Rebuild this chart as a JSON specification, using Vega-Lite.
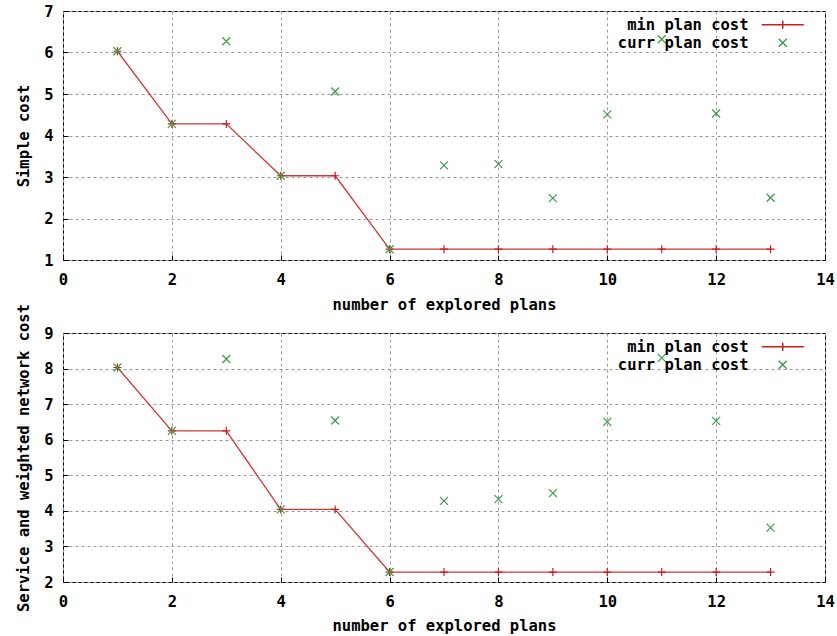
{
  "$schema": "https://vega.github.io/schema/vega-lite/v6.json",
  "background": "white",
  "padding": {"left": 16, "top": 3, "right": 8, "bottom": 3},
  "datasets": {
    "simple": [
      {"n": 1, "cost": 6.03, "series": "min plan cost"},
      {"n": 2, "cost": 4.28, "series": "min plan cost"},
      {"n": 3, "cost": 4.28, "series": "min plan cost"},
      {"n": 4, "cost": 3.03, "series": "min plan cost"},
      {"n": 5, "cost": 3.03, "series": "min plan cost"},
      {"n": 6, "cost": 1.26, "series": "min plan cost"},
      {"n": 7, "cost": 1.26, "series": "min plan cost"},
      {"n": 8, "cost": 1.26, "series": "min plan cost"},
      {"n": 9, "cost": 1.26, "series": "min plan cost"},
      {"n": 10, "cost": 1.26, "series": "min plan cost"},
      {"n": 11, "cost": 1.26, "series": "min plan cost"},
      {"n": 12, "cost": 1.26, "series": "min plan cost"},
      {"n": 13, "cost": 1.26, "series": "min plan cost"},
      {"n": 1, "cost": 6.03, "series": "curr plan cost"},
      {"n": 2, "cost": 4.28, "series": "curr plan cost"},
      {"n": 3, "cost": 6.27, "series": "curr plan cost"},
      {"n": 4, "cost": 3.03, "series": "curr plan cost"},
      {"n": 5, "cost": 5.06, "series": "curr plan cost"},
      {"n": 6, "cost": 1.26, "series": "curr plan cost"},
      {"n": 7, "cost": 3.28, "series": "curr plan cost"},
      {"n": 8, "cost": 3.31, "series": "curr plan cost"},
      {"n": 9, "cost": 2.49, "series": "curr plan cost"},
      {"n": 10, "cost": 4.51, "series": "curr plan cost"},
      {"n": 11, "cost": 6.32, "series": "curr plan cost"},
      {"n": 12, "cost": 4.53, "series": "curr plan cost"},
      {"n": 13, "cost": 2.5, "series": "curr plan cost"}
    ],
    "service": [
      {"n": 1, "cost": 8.03, "series": "min plan cost"},
      {"n": 2, "cost": 6.25, "series": "min plan cost"},
      {"n": 3, "cost": 6.25, "series": "min plan cost"},
      {"n": 4, "cost": 4.04, "series": "min plan cost"},
      {"n": 5, "cost": 4.04, "series": "min plan cost"},
      {"n": 6, "cost": 2.28, "series": "min plan cost"},
      {"n": 7, "cost": 2.28, "series": "min plan cost"},
      {"n": 8, "cost": 2.28, "series": "min plan cost"},
      {"n": 9, "cost": 2.28, "series": "min plan cost"},
      {"n": 10, "cost": 2.28, "series": "min plan cost"},
      {"n": 11, "cost": 2.28, "series": "min plan cost"},
      {"n": 12, "cost": 2.28, "series": "min plan cost"},
      {"n": 13, "cost": 2.28, "series": "min plan cost"},
      {"n": 1, "cost": 8.03, "series": "curr plan cost"},
      {"n": 2, "cost": 6.25, "series": "curr plan cost"},
      {"n": 3, "cost": 8.27, "series": "curr plan cost"},
      {"n": 4, "cost": 4.04, "series": "curr plan cost"},
      {"n": 5, "cost": 6.54, "series": "curr plan cost"},
      {"n": 6, "cost": 2.28, "series": "curr plan cost"},
      {"n": 7, "cost": 4.28, "series": "curr plan cost"},
      {"n": 8, "cost": 4.33, "series": "curr plan cost"},
      {"n": 9, "cost": 4.5, "series": "curr plan cost"},
      {"n": 10, "cost": 6.5, "series": "curr plan cost"},
      {"n": 11, "cost": 8.3, "series": "curr plan cost"},
      {"n": 12, "cost": 6.53, "series": "curr plan cost"},
      {"n": 13, "cost": 3.53, "series": "curr plan cost"}
    ]
  },
  "bounds": "flush",
  "spacing": 73,
  "resolve": {
    "scale": {"y": "independent", "color": "independent", "shape": "independent"},
    "legend": {"color": "independent", "shape": "independent"}
  },
  "vconcat": [
    {
      "width": 762,
      "height": 249,
      "data": {"name": "simple"},
      "encoding": {
        "x": {"field": "n", "type": "quantitative", "scale": {"domain": [0, 14]}, "axis": {"title": "number of explored plans", "values": [0, 2, 4, 6, 8, 10, 12, 14], "format": "d", "labelPadding": 17, "titlePadding": 10}},
        "y": {"field": "cost", "type": "quantitative", "scale": {"domain": [1, 7], "zero": false}, "axis": {"title": "Simple cost", "values": [1, 2, 3, 4, 5, 6, 7], "format": "d"}}
      },
      "layer": [
        {
          "mark": {"type": "line", "color": "#d03838", "strokeWidth": 1.3},
          "transform": [{"filter": "datum.series === 'min plan cost'"}]
        },
        {
          "mark": {"type": "point", "filled": false, "strokeWidth": 1.2, "size": 64, "opacity": 1, "color": "#c81e1e", "shape": "M-1,0L1,0M0,-1L0,1"},
          "transform": [{"filter": "datum.series === 'min plan cost'"}]
        },
        {
          "mark": {"type": "point", "filled": false, "strokeWidth": 1.2, "size": 64, "opacity": 1, "color": "#3c9c46", "shape": "M-1,-1L1,1M-1,1L1,-1"},
          "transform": [{"filter": "datum.series === 'curr plan cost'"}]
        },
        {
          "mark": {"type": "point", "filled": false, "strokeWidth": 1.2, "opacity": 1},
          "transform": [{"filter": "false"}],
          "encoding": {
            "color": {
              "field": "series", "type": "nominal",
              "scale": {"domain": ["min plan cost", "curr plan cost"], "range": ["#c81e1e", "#3c9c46"]},
              "legend": {
                "orient": "none", "legendX": 712, "legendY": 6, "title": null,
                "labelAlign": "right", "labelOffset": -42, "symbolSize": 100, "rowPadding": 1
              }
            },
            "shape": {
              "field": "series", "type": "nominal",
              "scale": {"domain": ["min plan cost", "curr plan cost"], "range": ["M-4.2,0L4.2,0M0,-0.8L0,0.8", "M-0.8,-0.8L0.8,0.8M-0.8,0.8L0.8,-0.8"]},
              "legend": {
                "orient": "none", "legendX": 712, "legendY": 6, "title": null,
                "labelAlign": "right", "labelOffset": -42, "symbolSize": 100, "rowPadding": 1
              }
            }
          }
        }
      ]
    },
    {
      "width": 762,
      "height": 249,
      "data": {"name": "service"},
      "encoding": {
        "x": {"field": "n", "type": "quantitative", "scale": {"domain": [0, 14]}, "axis": {"title": "number of explored plans", "values": [0, 2, 4, 6, 8, 10, 12, 14], "format": "d", "labelPadding": 17, "titlePadding": 9}},
        "y": {"field": "cost", "type": "quantitative", "scale": {"domain": [2, 9], "zero": false}, "axis": {"title": "Service and weighted network cost", "values": [2, 3, 4, 5, 6, 7, 8, 9], "format": "d"}}
      },
      "layer": [
        {
          "mark": {"type": "line", "color": "#d03838", "strokeWidth": 1.3},
          "transform": [{"filter": "datum.series === 'min plan cost'"}]
        },
        {
          "mark": {"type": "point", "filled": false, "strokeWidth": 1.2, "size": 64, "opacity": 1, "color": "#c81e1e", "shape": "M-1,0L1,0M0,-1L0,1"},
          "transform": [{"filter": "datum.series === 'min plan cost'"}]
        },
        {
          "mark": {"type": "point", "filled": false, "strokeWidth": 1.2, "size": 64, "opacity": 1, "color": "#3c9c46", "shape": "M-1,-1L1,1M-1,1L1,-1"},
          "transform": [{"filter": "datum.series === 'curr plan cost'"}]
        },
        {
          "mark": {"type": "point", "filled": false, "strokeWidth": 1.2, "opacity": 1},
          "transform": [{"filter": "false"}],
          "encoding": {
            "color": {
              "field": "series", "type": "nominal",
              "scale": {"domain": ["min plan cost", "curr plan cost"], "range": ["#c81e1e", "#3c9c46"]},
              "legend": {
                "orient": "none", "legendX": 712, "legendY": 6, "title": null,
                "labelAlign": "right", "labelOffset": -42, "symbolSize": 100, "rowPadding": 1
              }
            },
            "shape": {
              "field": "series", "type": "nominal",
              "scale": {"domain": ["min plan cost", "curr plan cost"], "range": ["M-4.2,0L4.2,0M0,-0.8L0,0.8", "M-0.8,-0.8L0.8,0.8M-0.8,0.8L0.8,-0.8"]},
              "legend": {
                "orient": "none", "legendX": 712, "legendY": 6, "title": null,
                "labelAlign": "right", "labelOffset": -42, "symbolSize": 100, "rowPadding": 1
              }
            }
          }
        }
      ]
    }
  ],
  "config": {
    "view": {"stroke": "black", "strokeWidth": 1},
    "font": "DejaVu Sans Mono",
    "axis": {
      "labelFont": "DejaVu Sans Mono", "labelFontWeight": "bold", "labelFontSize": 15.5, "labelColor": "black",
      "titleFont": "DejaVu Sans Mono", "titleFontWeight": "bold", "titleFontSize": 15.5, "titleColor": "black",
      "grid": true, "gridDash": [3, 3], "gridColor": "#9a9a9a", "gridWidth": 1,
      "domain": false, "ticks": true, "tickSize": -5, "tickColor": "black", "tickWidth": 1,
      "labelPadding": 15, "titlePadding": 12, "labelBound": false, "labelFlush": false, "labelOverlap": false
    },
    "legend": {"labelFont": "DejaVu Sans Mono", "labelFontWeight": "bold", "labelFontSize": 15.5, "labelColor": "black"}
  }
}
